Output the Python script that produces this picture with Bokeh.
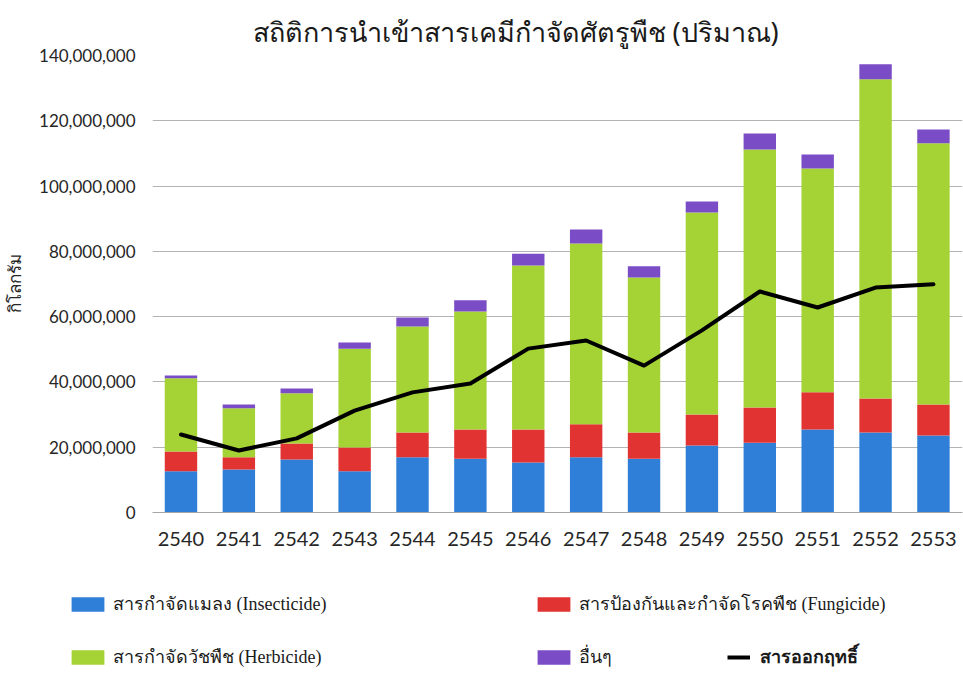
from bokeh.plotting import figure
from bokeh.layouts import column
from bokeh.models import (Range1d, FixedTicker, NumeralTickFormatter, Title,
                          Legend, LegendItem, ColumnDataSource)
from bokeh.embed import file_html
from bokeh.resources import INLINE

# ---------------- data ----------------
years = [2540, 2541, 2542, 2543, 2544, 2545, 2546, 2547, 2548, 2549, 2550, 2551, 2552, 2553]
insecticide = [12.6e6, 13.2e6, 16.2e6, 12.6e6, 16.9e6, 16.5e6, 15.3e6, 16.9e6, 16.5e6, 20.5e6, 21.4e6, 25.4e6, 24.5e6, 23.6e6]
fungicide = [6.1e6, 3.7e6, 4.9e6, 7.3e6, 7.6e6, 8.9e6, 10.1e6, 10.1e6, 8.0e6, 9.5e6, 10.8e6, 11.4e6, 10.4e6, 9.5e6]
herbicide = [22.4e6, 15.0e6, 15.4e6, 30.3e6, 32.5e6, 36.2e6, 50.3e6, 55.4e6, 47.5e6, 61.9e6, 79.0e6, 68.6e6, 97.8e6, 80.0e6]
others = [0.9e6, 1.2e6, 1.5e6, 1.9e6, 2.7e6, 3.4e6, 3.6e6, 4.3e6, 3.4e6, 3.4e6, 4.9e6, 4.3e6, 4.6e6, 4.2e6]
active = [23.9e6, 19.0e6, 22.7e6, 31.2e6, 36.8e6, 39.5e6, 50.2e6, 52.7e6, 45.0e6, 55.8e6, 67.7e6, 62.8e6, 68.9e6, 69.9e6]
y_ticks = [0, 20e6, 40e6, 60e6, 80e6, 100e6, 120e6, 140e6]

title_text = "สถิติการนำเข้าสารเคมีกำจัดศัตรูพืช (ปริมาณ)"
y_label_text = "กิโลกรัม"
series_names = ["insecticide", "fungicide", "herbicide", "others"]
legend_labels = ["สารกำจัดแมลง (Insecticide)", "สารป้องกันและกำจัดโรคพืช (Fungicide)",
                 "สารกำจัดวัชพืช (Herbicide)", "อื่นๆ"]
line_label = "สารออกฤทธิ์"
colors = ["#2F7FD8", "#E23333", "#A5D234", "#7A4CC6"]

src = ColumnDataSource(dict(year=years, insecticide=insecticide, fungicide=fungicide,
                            herbicide=herbicide, others=others, active=active))

# ---------------- main chart ----------------
W, H1, H2 = 963, 560, 115
p = figure(width=W, height=H1, output_backend="svg", toolbar_location=None,
           x_range=Range1d(2539.508, 2553.502), y_range=Range1d(0, 140e6),
           min_border_left=152, min_border_right=1, min_border_top=55,
           min_border_bottom=48, outline_line_color=None)
p.frame_align = False

p.title = Title(text=title_text, align="left", offset=100, standoff=12,
                text_font="Noto Sans", text_font_size="27px", text_font_style="normal",
                text_color="#1A1A1A")

bars = p.vbar_stack(series_names, x="year", width=0.56, color=colors,
                    line_color=None, source=src)
p.line(x="year", y="active", source=src, line_color="black", line_width=4,
       line_join="round", line_cap="round")

p.xaxis.ticker = FixedTicker(ticks=years)
p.xaxis.major_tick_line_color = None
p.xaxis.major_tick_out = 0
p.xaxis.minor_tick_line_color = None
p.xaxis.axis_line_color = "#A6A6A6"
p.xaxis.major_label_text_font = "Lato"
p.xaxis.major_label_text_font_size = "20px"
p.xaxis.major_label_text_color = "#262626"
p.xaxis.major_label_standoff = 19

p.yaxis.ticker = FixedTicker(ticks=y_ticks)
p.yaxis.formatter = NumeralTickFormatter(format="0,0")
p.yaxis.major_tick_line_color = None
p.yaxis.major_tick_out = 0
p.yaxis.minor_tick_line_color = None
p.yaxis.axis_line_color = None
p.yaxis.major_label_text_font = "Lato"
p.yaxis.major_label_text_font_size = "17px"
p.yaxis.major_label_text_color = "#262626"
p.yaxis.major_label_standoff = 17
p.yaxis.axis_label = y_label_text
p.yaxis.axis_label_text_font = "Noto Sans"
p.yaxis.axis_label_text_font_size = "17px"
p.yaxis.axis_label_text_font_style = "normal"
p.yaxis.axis_label_text_color = "#262626"
p.yaxis.axis_label_standoff = 10

p.xgrid.grid_line_color = None
p.ygrid.grid_line_color = "#B4B4B4"
p.ygrid.grid_line_width = 1

# ---------------- legend strip (its frame is the whole strip) ----------------
# the series are drawn again here with a y-range far above the data, so they fall
# well outside this strip and only their legend glyphs are shown
q = figure(width=W, height=H2, output_backend="svg", toolbar_location=None,
           x_range=Range1d(2539.5, 2553.5), y_range=Range1d(5e8, 6e8),
           x_axis_type=None, y_axis_type=None, min_border=0,
           outline_line_color=None)
q.frame_align = False
q.grid.visible = False
lbars = q.vbar_stack(series_names, x="year", width=0.56, color=colors,
                     line_color=None, source=src)
lline = q.line(x="year", y="active", source=src, line_color="black", line_width=4)

def add_legend(label, renderer, vx, vy, glyph_width=41, standoff=5, bold=False, size="18px"):
    lg = Legend(items=[LegendItem(label=label, renderers=[renderer])],
                location=(vx, vy), orientation="horizontal",
                border_line_color=None, background_fill_alpha=0,
                padding=0, margin=0, spacing=0,
                glyph_width=glyph_width, glyph_height=18, label_height=18,
                label_standoff=standoff, label_text_font="Liberation Serif",
                label_text_font_size=size, label_text_color="#1A1A1A",
                label_text_font_style="bold" if bold else "normal")
    q.add_layout(lg, "center")

add_legend(legend_labels[0], lbars[0], 67, 57)
add_legend(legend_labels[1], lbars[1], 533, 57)
add_legend(legend_labels[2], lbars[2], 67, 4)
add_legend(legend_labels[3], lbars[3], 533, 4)
add_legend(line_label, lline, 727, 4, glyph_width=23, standoff=10, bold=True)

layout = column(p, q, spacing=0)
open("out.html", "w").write(file_html(layout, INLINE))
